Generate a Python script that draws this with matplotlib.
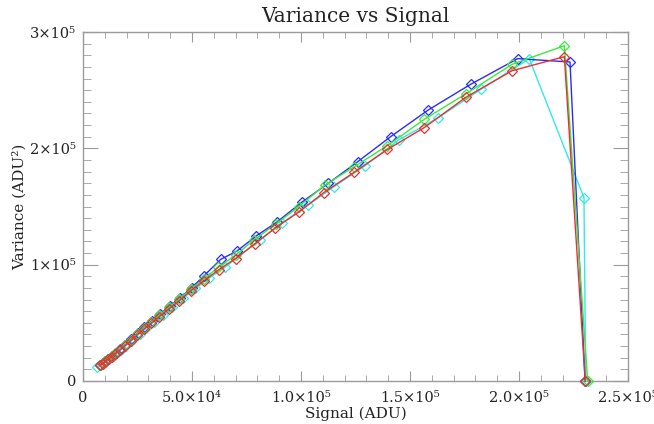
import matplotlib
matplotlib.use("Agg")
import matplotlib.pyplot as plt
from matplotlib.ticker import FixedLocator, MultipleLocator

# data in units of ADU (signal) and ADU^2 (variance) (thousands)
red_x = [7.8, 9.0, 10.1, 11.5, 13.2, 14.8, 16.8, 19.1, 21.9, 24.9, 27.9, 31.2, 35.0, 39.3, 44.0,
         49.4, 55.5, 62.4, 70.0, 78.7, 88.2, 99.1, 110.5, 124.4, 139.6, 156.6, 175.5, 196.8, 220.8, 230.4]
red_y = [13.5, 14.9, 16.6, 18.7, 20.9, 23.5, 26.4, 30.1, 34.6, 39.8, 44.4, 49.6, 55.3, 61.9, 68.8,
         77.6, 86.2, 95.8, 105.3, 117.8, 131.5, 145.5, 162.0, 179.4, 199.0, 217.9, 243.7, 266.7, 278.8, 0.0]

green_x = [7.8, 9.0, 10.1, 11.5, 13.2, 14.8, 16.8, 19.1, 21.9, 24.9, 27.9, 31.2, 35.0, 39.3, 44.0,
           49.4, 55.5, 62.1, 70.0, 78.4, 88.5, 98.9, 111.0, 124.4, 139.6, 156.6, 175.5, 196.8, 220.8, 231.5]
green_y = [13.8, 15.2, 16.9, 19.0, 21.3, 24.0, 27.0, 30.8, 35.4, 40.7, 45.4, 50.8, 56.6, 63.3, 70.4,
           79.0, 88.0, 97.7, 108.3, 121.2, 135.0, 149.8, 168.5, 184.2, 202.3, 225.0, 246.7, 272.2, 288.2, 0.0]

blue_x = [7.9, 9.1, 10.2, 11.6, 13.3, 15.0, 17.0, 19.3, 22.1, 25.2, 28.2, 31.6, 35.4, 39.8, 44.6,
          49.9, 55.5, 63.2, 70.6, 79.4, 89.0, 100.3, 112.5, 126.0, 141.1, 158.4, 177.8, 199.4, 223.4, 230.3]
blue_y = [13.9, 15.3, 17.1, 19.3, 21.6, 24.3, 27.4, 31.2, 35.9, 41.2, 46.1, 51.6, 57.7, 64.4, 71.6,
          80.2, 90.5, 104.6, 111.7, 124.6, 136.7, 153.6, 169.9, 188.5, 210.0, 233.0, 255.0, 277.1, 274.2, 0.0]

cyan_x = [6.6, 8.2, 9.4, 10.6, 12.1, 13.8, 15.6, 17.7, 20.2, 23.0, 26.0, 29.1, 32.6, 36.6, 41.0,
          46.0, 51.6, 57.8, 65.1, 81.2, 91.1, 103.3, 115.1, 129.4, 144.8, 163.0, 182.7, 204.7, 229.8, 230.6]
cyan_y = [11.8, 13.6, 15.2, 17.0, 19.0, 21.6, 24.3, 27.5, 31.4, 36.0, 40.8, 45.7, 51.0, 57.0, 63.6,
          71.4, 79.6, 88.5, 97.7, 121.2, 135.6, 151.3, 167.0, 185.1, 207.2, 226.3, 251.0, 277.1, 157.6, 0.0]

x_ticks = [0, 50000, 100000, 150000, 200000, 250000]
x_labels = ["0", "5.0×10⁴", "1.0×10⁵", "1.5×10⁵", "2.0×10⁵", "2.5×10⁵"]
y_ticks = [0, 100000, 200000, 300000]
y_labels = ["0", "1×10⁵", "2×10⁵", "3×10⁵"]

plt.rcParams['font.family'] = ['DejaVu Serif']

fig = plt.figure(figsize=(6.54, 4.24), dpi=100)
ax = fig.add_axes([83/654, 1-381/424, 545/654, 349/424])

series = [
    (cyan_x, cyan_y, "#33e8e8"),
    (blue_x, blue_y, "#2a2aff"),
    (green_x, green_y, "#3ce83c"),
    (red_x, red_y, "#e83030"),
]
for xs, ys, c in series:
    ax.plot([v * 1000 for v in xs], [v * 1000 for v in ys], color=c, lw=1.0,
            marker='D', markersize=5.2, markerfacecolor='none', markeredgecolor=c,
            markeredgewidth=0.9, clip_on=False, zorder=3)

ax.set_xlim(0, 250000)
ax.set_ylim(0, 300000)
ax.xaxis.set_major_locator(FixedLocator(x_ticks))
ax.set_xticklabels(x_labels)
ax.yaxis.set_major_locator(FixedLocator(y_ticks))
ax.set_yticklabels(y_labels)
ax.xaxis.set_minor_locator(MultipleLocator(10000))
ax.yaxis.set_minor_locator(MultipleLocator(10000))

gray = "#9a9a9a"
for s in ax.spines.values():
    s.set_color(gray)
    s.set_linewidth(1.0)
ax.tick_params(axis='both', which='both', direction='in', top=True, right=True,
               color=gray, labelcolor="#222222", labelsize=10.5)
ax.tick_params(axis='x', which='major', length=7, pad=7)
ax.tick_params(axis='x', which='minor', length=4)
ax.tick_params(axis='y', which='major', length=11, pad=5)
ax.tick_params(axis='y', which='minor', length=6)

ax.set_title("Variance vs Signal", fontsize=14.5, color="#222222", pad=7)
ax.set_xlabel("Signal (ADU)", fontsize=11, color="#222222", labelpad=1)
ax.set_ylabel("Variance (ADU²)", fontsize=11, color="#222222", labelpad=2)

fig.savefig("out.png", dpi=100)
